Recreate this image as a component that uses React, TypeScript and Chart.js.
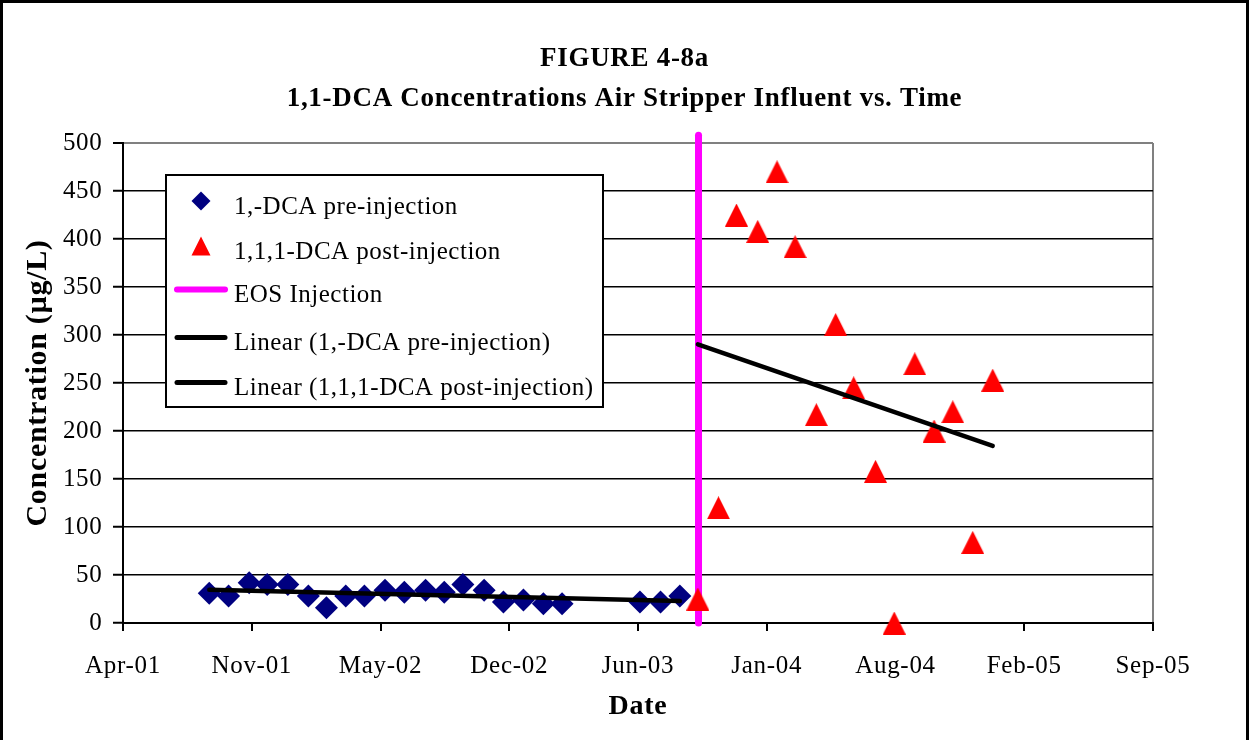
import React, { useEffect, useRef } from 'react';
import { Chart, registerables } from 'chart.js';

Chart.register(...registerables);

// ---------- data ----------
const PRE_DATES = [
  '2001-08-31', '2001-09-30', '2001-11-01', '2001-11-29', '2001-12-31', '2002-02-01',
  '2002-03-01', '2002-03-31', '2002-04-29', '2002-05-31', '2002-06-30', '2002-08-02',
  '2002-08-31', '2002-09-29', '2002-11-01', '2002-12-01', '2003-01-01', '2003-02-01',
  '2003-03-02', '2003-07-01', '2003-08-02', '2003-09-01',
];
const PRE_VALUES = [31, 28, 42, 40, 40, 28, 16, 28, 28, 34, 32, 34, 32, 40, 34, 22, 24, 20, 20, 22, 22, 28];

const POST_DATES = [
  '2003-09-29', '2003-10-31', '2003-11-28', '2003-12-31', '2004-01-30', '2004-02-27',
  '2004-03-31', '2004-04-30', '2004-05-28', '2004-07-01', '2004-07-30', '2004-08-31',
  '2004-09-30', '2004-10-29', '2004-11-29', '2004-12-30',
];
const POST_VALUES = [25, 120, 425, 408, 470, 392, 217, 311, 245, 158, 0, 270, 200, 220, 84, 253];

const EOS_DATES = ['2003-09-30', '2003-09-30'];
const EOS_VALUES = [0, 508];

const X_RANGE = ['2001-04-19', '2005-09-05'];
const X_STEP_DAYS = 200;
const X_TICK_LABELS = ['Apr-01', 'Nov-01', 'May-02', 'Dec-02', 'Jun-03', 'Jan-04', 'Aug-04', 'Feb-05', 'Sep-05'];
const Y_MIN = 0;
const Y_MAX = 500;
const Y_STEP = 50;

const TITLE_LINES = ['FIGURE 4-8a', '1,1-DCA Concentrations Air Stripper Influent vs. Time'];
const X_TITLE = 'Date';
const Y_TITLE = 'Concentration (\u00b5g/L)';
const SERIES_LABELS = [
  '1,-DCA pre-injection',
  '1,1,1-DCA post-injection',
  'EOS Injection',
  'Linear (1,-DCA pre-injection)',
  'Linear (1,1,1-DCA post-injection)',
];

// ---------- helpers ----------
const EXCEL_EPOCH = Date.UTC(1899, 11, 30);
function toSerial(s: string): number {
  const [y, m, d] = s.split('-').map(Number);
  return (Date.UTC(y, m - 1, d) - EXCEL_EPOCH) / 86400000;
}
function points(dates: string[], values: number[]) {
  return dates.map((d, i) => ({ x: toSerial(d), y: values[i] }));
}
function linearTrend(dates: string[], values: number[]) {
  const xs = dates.map(toSerial);
  const n = xs.length;
  const mx = xs.reduce((a, b) => a + b, 0) / n;
  const my = values.reduce((a, b) => a + b, 0) / n;
  let sxy = 0;
  let sxx = 0;
  for (let i = 0; i < n; i++) {
    sxy += (xs[i] - mx) * (values[i] - my);
    sxx += (xs[i] - mx) * (xs[i] - mx);
  }
  const b = sxy / sxx;
  const a = my - b * mx;
  const x1 = Math.min(...xs);
  const x2 = Math.max(...xs);
  return [
    { x: x1, y: a + b * x1 },
    { x: x2, y: a + b * x2 },
  ];
}
function makeTriangle(w: number, h: number, color: string) {
  const c = document.createElement('canvas');
  c.width = w;
  c.height = h;
  const g = c.getContext('2d')!;
  g.fillStyle = color;
  g.beginPath();
  g.moveTo(w / 2, 0);
  g.lineTo(w, h);
  g.lineTo(0, h);
  g.closePath();
  g.fill();
  return c;
}

const FONT = "'Liberation Serif', 'Times New Roman', serif";
const NAVY = '#000080';
const RED = '#FF0000';
const MAGENTA = '#FF00FF';
const LETTER_SPACING = '0.7px';

const spacingPlugin = {
  id: 'spacing',
  beforeLayout(chart: any) {
    chart.ctx.letterSpacing = LETTER_SPACING;
  },
  beforeDraw(chart: any) {
    const ctx = chart.ctx;
    ctx.letterSpacing = LETTER_SPACING;
    ctx.save();
    ctx.fillStyle = '#fff';
    ctx.fillRect(0, 0, chart.width, chart.height);
    ctx.restore();
  },
};

const framePlugin = {
  id: 'frame',
  afterDraw(chart: any) {
    const ctx = chart.ctx;
    ctx.save();
    ctx.fillStyle = '#000';
    ctx.fillRect(0, 0, chart.width, 3);
    ctx.fillRect(0, 0, 3, chart.height);
    ctx.fillRect(chart.width - 3, 0, 3, chart.height);
    ctx.restore();
  },
};

const legendPlugin = {
  id: 'excelLegend',
  afterDatasetsDraw(chart: any) {
    const { ctx, chartArea } = chart;
    const x0 = chartArea.left + 43;
    const y0 = chartArea.top + 32;
    const w = 437;
    const h = 232;
    const rowCenters = [26, 71, 114.5, 162.5, 207.5];
    ctx.save();
    ctx.fillStyle = '#fff';
    ctx.fillRect(x0, y0, w, h);
    ctx.lineWidth = 2;
    ctx.strokeStyle = '#000';
    ctx.strokeRect(x0, y0, w, h);
    ctx.font = `25px ${FONT}`;
    ctx.letterSpacing = '0.5px';
    ctx.textBaseline = 'alphabetic';
    ctx.textAlign = 'left';
    const legendDs = SERIES_LABELS.map((lbl) => chart.data.datasets.find((d: any) => d.label === lbl));
    legendDs.forEach((ds: any, i: number) => {
      if (!ds) return;
      const cy = y0 + rowCenters[i];
      const mx = x0 + 35;
      if (ds.legendKind === 'diamond') {
        const r = 9.5;
        ctx.fillStyle = ds.backgroundColor;
        ctx.beginPath();
        ctx.moveTo(mx - r, cy);
        ctx.lineTo(mx, cy - r);
        ctx.lineTo(mx + r, cy);
        ctx.lineTo(mx, cy + r);
        ctx.closePath();
        ctx.fill();
      } else if (ds.legendKind === 'triangle') {
        const tw = 19;
        const th = 19;
        ctx.fillStyle = RED;
        ctx.beginPath();
        ctx.moveTo(mx, cy - th / 2);
        ctx.lineTo(mx + tw / 2, cy + th / 2);
        ctx.lineTo(mx - tw / 2, cy + th / 2);
        ctx.closePath();
        ctx.fill();
      } else {
        ctx.strokeStyle = ds.borderColor;
        ctx.lineWidth = ds.legendKind === 'eos' ? 6 : 5;
        ctx.lineCap = 'round';
        ctx.beginPath();
        ctx.moveTo(x0 + 11, cy);
        ctx.lineTo(x0 + 59, cy);
        ctx.stroke();
      }
      ctx.fillStyle = '#000';
      ctx.fillText(ds.label, x0 + 68, cy + 12.5);
    });
    ctx.restore();
  },
};

export default function App() {
  const ref = useRef<HTMLCanvasElement | null>(null);

  useEffect(() => {
    document.body.style.margin = '0';
    document.body.style.overflow = 'hidden';
    document.documentElement.style.overflow = 'hidden';
    if (!ref.current) return;

    Chart.defaults.font.family = FONT;
    Chart.defaults.color = '#000';

    const xMin = toSerial(X_RANGE[0]);
    const xMax = toSerial(X_RANGE[1]);
    const triangle = makeTriangle(23, 23, RED);

    const chart = new Chart(ref.current, {
      type: 'scatter',
      data: {
        datasets: [
          {
            label: SERIES_LABELS[0],
            legendKind: 'diamond',
            data: points(PRE_DATES, PRE_VALUES),
            pointStyle: 'rectRot',
            pointRadius: 11.5,
            backgroundColor: NAVY,
            borderColor: NAVY,
            borderWidth: 0,
            order: 2,
            clip: false,
          } as any,
          {
            label: SERIES_LABELS[1],
            legendKind: 'triangle',
            data: points(POST_DATES, POST_VALUES),
            pointStyle: triangle,
            pointRadius: 12,
            backgroundColor: RED,
            borderColor: RED,
            borderWidth: 0,
            order: 1,
            clip: false,
          } as any,
          {
            label: SERIES_LABELS[2],
            legendKind: 'eos',
            data: points(EOS_DATES, EOS_VALUES),
            showLine: true,
            borderColor: MAGENTA,
            backgroundColor: MAGENTA,
            borderWidth: 7,
            borderCapStyle: 'round',
            pointRadius: 0,
            order: 3,
            clip: false,
          } as any,
          {
            label: SERIES_LABELS[3],
            legendKind: 'line',
            data: linearTrend(PRE_DATES, PRE_VALUES),
            showLine: true,
            borderColor: '#000',
            backgroundColor: '#000',
            borderWidth: 4.5,
            borderCapStyle: 'round',
            pointRadius: 0,
            order: 0,
            clip: false,
          } as any,
          {
            label: SERIES_LABELS[4],
            legendKind: 'line',
            data: linearTrend(POST_DATES, POST_VALUES),
            showLine: true,
            borderColor: '#000',
            backgroundColor: '#000',
            borderWidth: 4.5,
            borderCapStyle: 'round',
            pointRadius: 0,
            order: 0,
            clip: false,
          } as any,
        ],
      },
      options: {
        responsive: false,
        animation: false,
        events: [],
        layout: { padding: { left: 0, right: 0, top: 0, bottom: 0 } },
        plugins: {
          legend: { display: false },
          tooltip: { enabled: false },
          title: {
            display: true,
            text: TITLE_LINES,
            color: '#000',
            font: { family: FONT, size: 27, weight: 'bold', lineHeight: 40 / 27 },
            padding: { top: 39, bottom: 24 },
          },
        },
        scales: {
          x: {
            type: 'linear',
            position: 'bottom',
            min: xMin,
            max: xMax,
            afterFit: (s: any) => {
              s.height = 117;
            },
            ticks: {
              stepSize: X_STEP_DAYS,
              autoSkip: false,
              maxRotation: 0,
              minRotation: 0,
              padding: 20,
              color: '#000',
              font: { family: FONT, size: 25 },
              callback: (_v: any, i: number) => X_TICK_LABELS[i] ?? '',
            },
            grid: {
              drawOnChartArea: true,
              color: (c: any) => (c.tick && c.tick.value === xMax ? '#808080' : 'rgba(0,0,0,0)'),
              lineWidth: 2,
              tickColor: '#000',
              tickLength: 8,
              tickWidth: 2,
            },
            border: { display: true, color: '#000', width: 2 },
            title: {
              display: true,
              text: X_TITLE,
              color: '#000',
              font: { family: FONT, size: 28, weight: 'bold' },
              padding: { top: 0, bottom: 16 },
            },
          },
          y: {
            type: 'linear',
            position: 'left',
            min: Y_MIN,
            max: Y_MAX,
            afterFit: (s: any) => {
              s.width = 123;
            },
            ticks: {
              stepSize: Y_STEP,
              padding: 10.5,
              color: '#000',
              font: { family: FONT, size: 25 },
            },
            grid: {
              color: (c: any) => (c.tick && c.tick.value === Y_MAX ? '#808080' : '#000'),
              lineWidth: (c: any) => (c.tick && c.tick.value === Y_MAX ? 2 : 1.5),
              tickColor: '#000',
              tickLength: 10,
              tickWidth: 2,
            },
            border: { display: true, color: '#000', width: 2 },
            title: {
              display: true,
              text: Y_TITLE,
              color: '#000',
              font: { family: FONT, size: 30, weight: 'bold' },
              padding: { top: 20, bottom: 0 },
            },
          },
          yRight: {
            type: 'linear',
            position: 'right',
            display: true,
            afterFit: (s: any) => {
              s.width = 96;
            },
            ticks: { display: false },
            grid: { display: false, drawTicks: false },
            border: { display: false },
          },
        },
      } as any,
      plugins: [spacingPlugin, legendPlugin, framePlugin],
    });

    return () => chart.destroy();
  }, []);

  return (
    <canvas
      ref={ref}
      width={1249}
      height={740}
      style={{ display: 'block', width: '1249px', height: '740px' }}
    />
  );
}
